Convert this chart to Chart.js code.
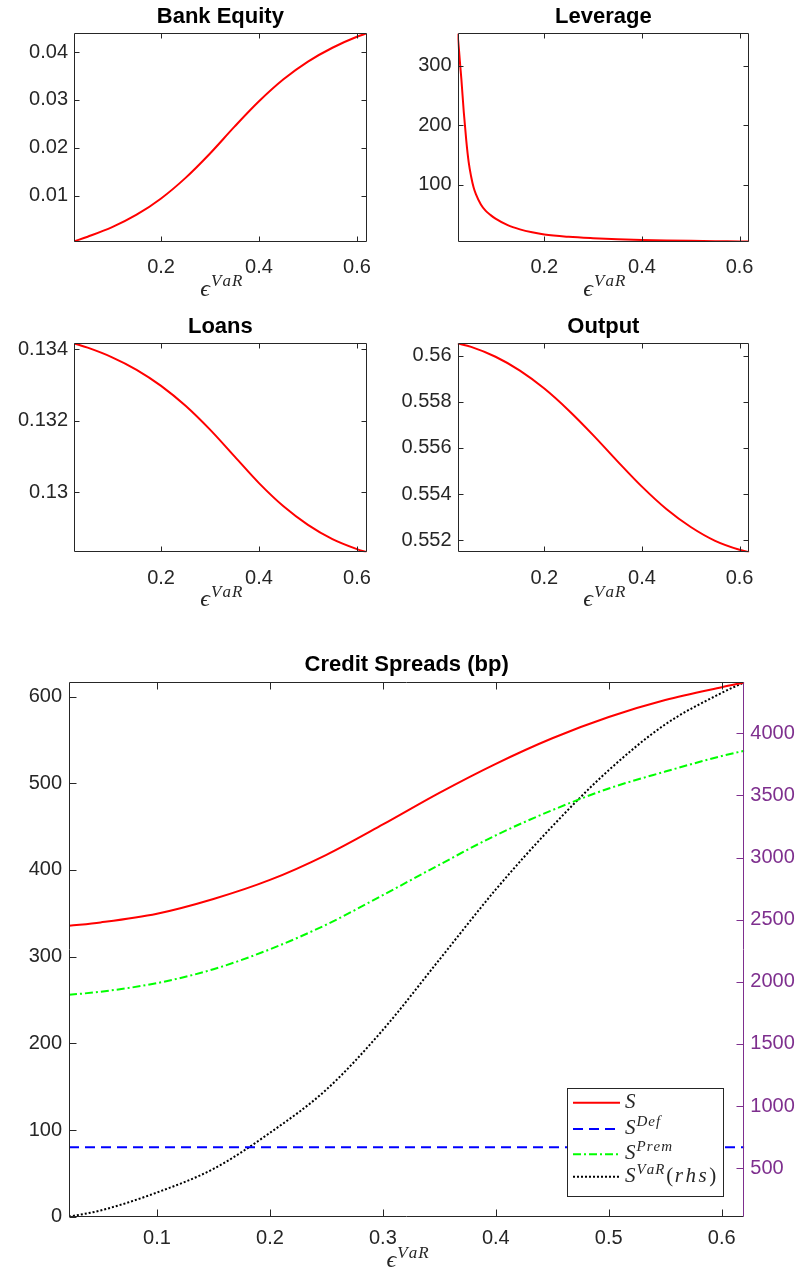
<!DOCTYPE html>
<html><head><meta charset="utf-8">
<script src="https://cdn.jsdelivr.net/npm/chart.js@4.4.1/dist/chart.umd.min.js"></script>
<style>
html,body{margin:0;padding:0;background:#fff;}
body{width:801px;height:1275px;position:relative;overflow:hidden;}
canvas{position:absolute;}
</style></head><body>
<canvas id="c1" width="400" height="310" style="left:0;top:0"></canvas>
<canvas id="c2" width="401" height="310" style="left:400px;top:0"></canvas>
<canvas id="c3" width="400" height="310" style="left:0;top:310px"></canvas>
<canvas id="c4" width="401" height="310" style="left:400px;top:310px"></canvas>
<canvas id="c5" width="801" height="635" style="left:0;top:640px"></canvas>
<script>
// ---------- data ----------
const epsVaR = [0.0221, 0.05, 0.1, 0.15, 0.2, 0.25, 0.3, 0.35, 0.4, 0.45, 0.5, 0.55, 0.6, 0.62];
const bankEquity = [0.0004, 0.0014, 0.0034, 0.006, 0.0094, 0.0137, 0.0188, 0.0244, 0.0297, 0.0343, 0.038, 0.0409, 0.0432, 0.0439];
const loans = [0.13417, 0.13405, 0.13378, 0.13343, 0.13298, 0.13242, 0.13175, 0.13100, 0.13025, 0.12960, 0.12908, 0.12868, 0.12840, 0.12831];
const output = [0.56054, 0.56039, 0.55996, 0.55936, 0.55858, 0.55763, 0.55656, 0.55542, 0.55432, 0.55335, 0.55257, 0.55197, 0.55158, 0.55147];
const epsVaRLev = [0.0221, 0.025, 0.0275, 0.03, 0.035, 0.04, 0.045, 0.05, 0.055, 0.06, 0.07, 0.08, 0.09, 0.1, 0.125, 0.15, 0.175, 0.2, 0.25, 0.3, 0.35, 0.4, 0.45, 0.5, 0.55, 0.6, 0.62];
const leverage = [354.5, 328, 302, 278, 222, 175, 138, 114, 96, 84, 67, 56, 49, 43, 32, 25, 20, 16.3, 12.5, 10.2, 8.5, 7.3, 6.4, 5.7, 5.2, 4.8, 4.6];
const spreadS = [335.6, 339.5, 349.5, 366.5, 388.5, 417.5, 452.5, 489, 522.5, 552, 576.5, 596, 610.8, 616.2];
const spreadDef = [80, 80, 80, 80, 80, 80, 80, 80, 80, 80, 80, 80, 80, 80];
const spreadPrem = [256, 259.5, 269.5, 285.5, 308.5, 337, 371, 406, 440, 469, 494, 513.5, 531.5, 537.5];
const spreadVaR = [110, 160, 305, 495, 785, 1133, 1613, 2178, 2743, 3251, 3703, 4071, 4325, 4410];

const smallXTicks = [0.2, 0.4, 0.6];
const equityTicks = [0.01, 0.02, 0.03, 0.04];
const leverageTicks = [100, 200, 300];
const loansTicks = [0.13, 0.132, 0.134];
const outputTicks = [0.552, 0.554, 0.556, 0.558, 0.56];
const spreadXTicks = [0.1, 0.2, 0.3, 0.4, 0.5, 0.6];
const spreadLeftTicks = [0, 100, 200, 300, 400, 500, 600];
const spreadRightTicks = [500, 1000, 1500, 2000, 2500, 3000, 3500, 4000];
const legendNames = [['S',''], ['S','Def'], ['S','Prem'], ['S','VaR']];

// ---------- style ----------
const X_MIN = 0.0221, X_MAX = 0.62;
const FONT = '"Liberation Sans", Arial, Helvetica, sans-serif';
const SERIF = '"Liberation Serif", "DejaVu Serif", serif';
const TXT = '#262626', AX = '#262626', PURPLE = 'rgb(126,47,142)';

const framePlugin = {
  id: 'frame',
  afterDatasetsDraw(chart, args, o) {
    if (!o || !o.color) return;
    const {ctx, chartArea: a, scales} = chart;
    const L = Math.round(a.left) + 0.5, R = Math.round(a.right) - 0.5, T = Math.round(a.top) + 0.5, B = Math.round(a.bottom) - 0.5;
    const len = o.len;
    ctx.save();
    ctx.lineWidth = 1;
    ctx.strokeStyle = o.color;
    ctx.beginPath();
    ctx.moveTo(R, T); ctx.lineTo(L, T); ctx.lineTo(L, B); ctx.lineTo(R, B);
    if (!o.rightColor) ctx.lineTo(R, T);
    for (const t of scales.x.ticks) {
      const p = Math.round(scales.x.getPixelForValue(t.value)) + 0.5;
      ctx.moveTo(p, B); ctx.lineTo(p, B - len);
      ctx.moveTo(p, T); ctx.lineTo(p, T + len);
    }
    for (const t of scales.y.ticks) {
      const p = Math.round(scales.y.getPixelForValue(t.value)) + 0.5;
      ctx.moveTo(L, p); ctx.lineTo(L + len, p);
      if (o.mirrorY) { ctx.moveTo(R, p); ctx.lineTo(R - len, p); }
    }
    ctx.stroke();
    if (o.rightColor) {
      ctx.strokeStyle = o.rightColor;
      ctx.beginPath();
      ctx.moveTo(R, T); ctx.lineTo(R, B);
      for (const t of scales.y2.ticks) {
        const p = Math.round(scales.y2.getPixelForValue(t.value)) + 0.5;
        ctx.moveTo(R, p); ctx.lineTo(R - len, p);
      }
      ctx.stroke();
    }
    ctx.restore();
  }
};

function spaced(ctx, s, x, y, sp) {
  for (const ch of s) { ctx.fillText(ch, x, y); x += ctx.measureText(ch).width + sp; }
  return x;
}

function drawEps(ctx, cx, baseline, size) {
  ctx.save();
  ctx.fillStyle = TXT;
  ctx.textBaseline = 'alphabetic';
  ctx.textAlign = 'left';
  ctx.font = 'italic ' + size + 'px ' + SERIF;
  const w1 = ctx.measureText('ϵ').width;
  const sup = Math.round(size * 0.72);
  ctx.font = 'italic ' + sup + 'px ' + SERIF;
  const w2 = ctx.measureText('VaR').width + 2;
  const x0 = cx - (w1 + 1 + w2) / 2;
  ctx.font = 'italic ' + size + 'px ' + SERIF;
  ctx.fillText('ϵ', x0, baseline);
  ctx.font = 'italic ' + sup + 'px ' + SERIF;
  spaced(ctx, 'VaR', x0 + w1 + 1, baseline - size * 0.38, 1);
  ctx.restore();
}

const xlabelPlugin = {
  id: 'xlabel',
  afterDraw(chart, args, o) {
    if (!o || !o.offset) return;
    const a = chart.chartArea;
    drawEps(chart.ctx, (a.left + a.right) / 2, a.bottom + o.offset, o.size);
  }
};

const mlegendPlugin = {
  id: 'mlegend',
  afterDraw(chart, args, o) {
    if (!o || !o.items) return;
    const ctx = chart.ctx;
    const ds = chart.data.datasets;
    ctx.save();
    ctx.fillStyle = '#fff';
    ctx.fillRect(o.x, o.y, o.w, o.h);
    ctx.strokeStyle = AX; ctx.lineWidth = 1;
    ctx.strokeRect(o.x + 0.5, o.y + 0.5, o.w, o.h);
    o.items.forEach((it, i) => {
      const d = ds[i];
      const yy = o.rows[i];
      ctx.strokeStyle = d.borderColor; ctx.lineWidth = d.borderWidth;
      ctx.setLineDash(d.borderDash || []);
      ctx.beginPath(); ctx.moveTo(o.x + 6, yy); ctx.lineTo(o.x + 53, yy); ctx.stroke();
      ctx.setLineDash([]);
      ctx.fillStyle = TXT;
      ctx.textBaseline = 'alphabetic';
      let x = o.x + 58;
      const base = yy + 5;
      ctx.font = 'italic 21px ' + SERIF;
      x = spaced(ctx, legendNames[i][0], x, base, 1);
      if (legendNames[i][1]) {
        ctx.font = 'italic 15px ' + SERIF;
        x = spaced(ctx, legendNames[i][1], x, base - 8, 1);
      }
      if (d.yAxisID === 'y2') {
        ctx.font = '21px ' + SERIF; x = spaced(ctx, '(', x + 1, base, 1.5);
        ctx.font = 'italic 21px ' + SERIF; x = spaced(ctx, 'rhs', x, base, 2.5);
        ctx.font = '21px ' + SERIF; ctx.fillText(')', x, base);
      }
    });
    ctx.restore();
  }
};

Chart.register(framePlugin, xlabelPlugin, mlegendPlugin);

const tickFont = {family: FONT, size: 20};
function pts(xs, ys) { return xs.map((x, i) => ({x: x, y: ys[i]})); }

function makeSmall(id, title, xs, ys, yTicks, yMin, yMax, yW, rPad, xH) {
  return new Chart(document.getElementById(id), {
    type: 'line',
    data: {datasets: [{data: pts(xs, ys), borderColor: '#ff0000', borderWidth: 2, pointRadius: 0, cubicInterpolationMode: 'monotone', fill: false}]},
    options: {
      responsive: false, animation: false, devicePixelRatio: 1,
      layout: {padding: {left: 0, right: rPad, top: 0, bottom: 0}},
      plugins: {
        legend: {display: false}, tooltip: {enabled: false},
        title: {display: true, text: title, fullSize: false, color: '#000', font: {family: FONT, size: 22, weight: 'bold', lineHeight: 1.2}, padding: {top: 4, bottom: 3}},
        frame: {color: AX, mirrorY: true, len: 5},
        xlabel: {offset: 54, size: 24}
      },
      scales: {
        x: {type: 'linear', min: X_MIN, max: X_MAX, grid: {display: false, drawTicks: false}, border: {display: false},
            ticks: {color: TXT, font: tickFont, padding: 14, maxRotation: 0, autoSkip: false, callback: v => String(v)},
            afterBuildTicks: s => { s.ticks = smallXTicks.map(v => ({value: v})); },
            afterFit: s => { s.height = xH; }},
        y: {type: 'linear', min: yMin, max: yMax, grid: {display: false, drawTicks: false}, border: {display: false},
            ticks: {color: TXT, font: tickFont, padding: 6, autoSkip: false, callback: v => String(v)},
            afterBuildTicks: s => { s.ticks = yTicks.map(v => ({value: v})); },
            afterFit: s => { s.width = yW; }}
      }
    }
  });
}

makeSmall('c1', 'Bank Equity', epsVaR, bankEquity, equityTicks, 0.0004, 0.0439, 74, 33.3, 68.5);
makeSmall('c2', 'Leverage', epsVaRLev, leverage, leverageTicks, 4.6, 354.5, 57.5, 51.7, 68.5);
makeSmall('c3', 'Loans', epsVaR, loans, loansTicks, 0.12831, 0.13417, 74, 33.3, 67.7);
makeSmall('c4', 'Output', epsVaR, output, outputTicks, 0.55147, 0.56054, 57.5, 51.7, 67.7);

new Chart(document.getElementById('c5'), {
  type: 'line',
  data: {datasets: [
    {label: 'S', data: pts(epsVaR, spreadS), yAxisID: 'y', borderColor: '#ff0000', borderWidth: 2, pointRadius: 0, cubicInterpolationMode: 'monotone', fill: false},
    {label: 'S^Def', data: pts(epsVaR, spreadDef), yAxisID: 'y', borderColor: '#0000ff', borderWidth: 2, borderDash: [10, 6], pointRadius: 0, fill: false},
    {label: 'S^Prem', data: pts(epsVaR, spreadPrem), yAxisID: 'y', borderColor: '#00ff00', borderWidth: 2, borderDash: [8, 3, 2, 3], pointRadius: 0, cubicInterpolationMode: 'monotone', fill: false},
    {label: 'S^VaR (rhs)', data: pts(epsVaR, spreadVaR), yAxisID: 'y2', borderColor: '#000000', borderWidth: 2, borderDash: [2, 2], pointRadius: 0, cubicInterpolationMode: 'monotone', fill: false}
  ]},
  options: {
    responsive: false, animation: false, devicePixelRatio: 1,
    layout: {padding: {left: 0, right: 0, top: 0, bottom: 0}},
    plugins: {
      legend: {display: false}, tooltip: {enabled: false},
      title: {display: true, text: 'Credit Spreads (bp)', fullSize: false, color: '#000', font: {family: FONT, size: 22, weight: 'bold', lineHeight: 1.2}, padding: {top: 11.8, bottom: 4.1}},
      frame: {color: AX, rightColor: PURPLE, mirrorY: false, len: 7},
      xlabel: {offset: 50, size: 24},
      mlegend: {items: [0, 1, 2, 3], x: 567, y: 1088 - 640, w: 156, h: 108, rows: [1102.7 - 640, 1129 - 640, 1154.3 - 640, 1176.7 - 640]}
    },
    scales: {
      x: {type: 'linear', min: X_MIN, max: X_MAX, grid: {display: false, drawTicks: false}, border: {display: false},
          ticks: {color: TXT, font: tickFont, padding: 10, maxRotation: 0, autoSkip: false, callback: v => String(v)},
          afterBuildTicks: s => { s.ticks = spreadXTicks.map(v => ({value: v})); },
          afterFit: s => { s.height = 58.3; }},
      y: {type: 'linear', position: 'left', min: 0, max: 616.5, grid: {display: false, drawTicks: false}, border: {display: false},
          ticks: {color: TXT, font: tickFont, padding: 7, autoSkip: false, callback: v => String(v)},
          afterBuildTicks: s => { s.ticks = spreadLeftTicks.map(v => ({value: v})); },
          afterFit: s => { s.width = 69; }},
      y2: {type: 'linear', position: 'right', min: 110, max: 4410, grid: {display: false, drawTicks: false}, border: {display: false},
          ticks: {color: PURPLE, font: tickFont, padding: 6, autoSkip: false, callback: v => String(v)},
          afterBuildTicks: s => { s.ticks = spreadRightTicks.map(v => ({value: v})); },
          afterFit: s => { s.width = 56.7; }}
    }
  }
});
</script>
</body></html>
